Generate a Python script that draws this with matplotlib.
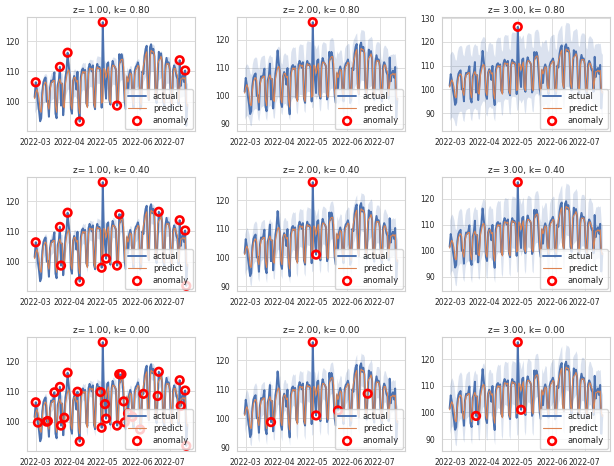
import numpy as np
import pandas as pd
import matplotlib
matplotlib.use("Agg")
import matplotlib.pyplot as plt
import matplotlib.dates as mdates
from matplotlib.ticker import MultipleLocator
import seaborn as sns

sns.set_style("whitegrid")
plt.rcParams['font.family'] = ['DejaVu Sans']

# ---------------- data ----------------
start_date = "2022-02-28"
actual = [
    101.5, 106.4, 104.0, 99.7, 97.0, 93.5, 94.5,
    103.5, 106.5, 107.5, 108.0, 100.0, 100.2, 95.0,
    104.5, 107.0, 106.5, 107.5, 109.7, 96.0, 94.5,
    105.5, 107.0, 111.5, 98.7, 106.0, 95.5, 101.3,
    108.0, 110.5, 116.2, 112.0, 108.5, 97.5, 96.0,
    107.0, 108.5, 107.0, 104.0, 109.9, 97.0, 93.4,
    108.0, 110.5, 111.0, 109.5, 110.5, 99.5, 98.5,
    111.0, 112.5, 111.5, 110.0, 112.0, 99.0, 97.5,
    110.5, 112.5, 111.0, 111.5, 109.8, 98.0, 126.3,
    110.0, 105.8, 101.0, 112.5, 113.0, 100.5, 99.0,
    111.0, 113.5, 112.0, 111.5, 110.5, 98.7, 100.0,
    115.7, 113.0, 115.7, 114.0, 106.7, 99.8, 97.5,
    108.0, 102.7, 109.0, 110.5, 109.0, 101.6, 98.0,
    110.0, 111.5, 112.0, 113.0, 111.0, 97.4, 98.5,
    110.0, 109.2, 115.0, 117.5, 118.5, 103.0, 100.5,
    118.0, 119.0, 116.0, 117.5, 115.0, 101.5, 99.5,
    108.5, 116.5, 114.5, 116.0, 113.0, 100.0, 98.5,
    112.0, 114.5, 112.5, 113.0, 110.5, 99.5, 98.0,
    110.5, 112.0, 111.0, 108.5, 107.5, 99.0, 113.7,
    105.2, 108.0, 109.0, 106.5, 110.3, 92.0, 99.0,
]
predict = [
    101.0, 103.0, 104.0, 103.0, 101.0, 97.0, 96.5,
    101.5, 105.0, 106.0, 106.5, 105.5, 99.0, 97.5,
    103.5, 106.0, 106.5, 107.0, 107.0, 98.5, 96.5,
    104.0, 106.5, 107.5, 106.0, 106.0, 98.5, 98.0,
    106.0, 108.0, 110.0, 110.5, 109.0, 99.0, 97.5,
    106.5, 108.0, 108.0, 106.5, 107.0, 98.5, 96.0,
    106.5, 109.0, 110.0, 109.5, 110.0, 99.5, 98.0,
    109.0, 111.0, 111.0, 110.5, 111.0, 99.5, 98.0,
    109.5, 111.5, 111.0, 111.0, 110.5, 99.5, 100.0,
    111.0, 110.5, 108.0, 110.0, 111.5, 101.0, 99.5,
    110.0, 112.0, 112.0, 111.5, 111.0, 100.5, 99.5,
    111.5, 113.5, 114.0, 114.0, 111.5, 101.0, 99.0,
    108.5, 106.5, 108.0, 109.5, 109.0, 101.5, 99.0,
    108.5, 110.5, 111.0, 112.0, 111.5, 100.5, 99.0,
    108.5, 112.0, 113.5, 115.5, 116.5, 102.0, 100.5,
    114.0, 117.0, 116.5, 116.5, 115.5, 102.5, 100.5,
    112.5, 113.5, 114.0, 115.0, 113.5, 101.0, 99.5,
    110.0, 112.5, 112.5, 112.5, 111.0, 100.5, 99.0,
    109.0, 111.0, 111.0, 109.5, 108.5, 100.0, 104.0,
    107.5, 107.5, 108.0, 107.5, 108.0, 100.0, 98.5,
]
# weekly smooth level (20 weeks) used as the band centre for large k
weekly_level = [100.5, 103.0, 104.0, 104.0, 107.0, 104.5, 107.0, 108.0, 110.0, 107.5,
                108.5, 109.5, 105.5, 107.5, 110.5, 112.5, 110.0, 108.5, 107.5, 104.5]
# weekly residual std for each k (20 weeks)
sigma_k080 = [4.6, 4.6, 4.5, 4.5, 4.5, 4.5, 4.5, 4.5, 4.5, 4.5,
              4.5, 4.5, 4.5, 4.5, 4.5, 4.5, 4.4, 4.4, 4.4, 4.4]
sigma_k040 = [3.6, 3.5, 3.4, 3.4, 3.4, 3.3, 3.3, 3.3, 3.3, 3.3,
              3.3, 3.3, 3.3, 3.3, 3.3, 3.3, 3.3, 3.3, 3.3, 3.3]
sigma_k000 = [3.0, 2.9, 2.8, 2.8, 2.7, 2.7, 2.7, 2.7, 2.7, 2.7,
              2.7, 2.7, 2.7, 2.7, 2.8, 2.8, 2.7, 2.7, 2.7, 2.7]
# share of the smooth level in the band centre, per k
level_weight = {0.8: 0.5, 0.4: 0.2, 0.0: 0.0}
z_values = [1.0, 2.0, 3.0]
k_values = [0.8, 0.4, 0.0]

anom_z1_k080 = ["2022-03-01", "2022-03-23", "2022-03-30", "2022-04-10",
                "2022-05-01", "2022-05-14", "2022-07-10", "2022-07-15"]
anom_z2_k080 = ["2022-05-01"]
anom_z3_k080 = ["2022-05-01"]
anom_z1_k040 = ["2022-03-01", "2022-03-23", "2022-03-24", "2022-03-30",
                "2022-04-10", "2022-04-30", "2022-05-01", "2022-05-04",
                "2022-05-14", "2022-05-16", "2022-06-21", "2022-07-10",
                "2022-07-15", "2022-07-16"]
anom_z2_k040 = ["2022-05-01", "2022-05-04"]
anom_z3_k040 = ["2022-05-01"]
anom_z1_k000 = ["2022-03-01", "2022-03-03", "2022-03-11", "2022-03-12",
                "2022-03-18", "2022-03-23", "2022-03-24", "2022-03-27",
                "2022-03-30", "2022-04-08", "2022-04-10", "2022-04-29",
                "2022-04-30", "2022-05-01", "2022-05-03", "2022-05-04",
                "2022-05-14", "2022-05-16", "2022-05-18", "2022-05-20",
                "2022-05-21", "2022-05-24", "2022-05-28", "2022-06-04",
                "2022-06-07", "2022-06-20", "2022-06-21", "2022-07-10",
                "2022-07-11", "2022-07-15", "2022-07-16"]
anom_z2_k000 = ["2022-03-24", "2022-05-01", "2022-05-04", "2022-05-24",
                "2022-06-20"]
anom_z3_k000 = ["2022-03-24", "2022-05-01", "2022-05-04"]

# ---------------- build ----------------
dates = pd.date_range(start_date, periods=len(actual), freq="D")
s_actual = pd.Series(actual, index=dates)
s_pred = pd.Series(predict, index=dates)
level = np.repeat(np.array(weekly_level), 7)[:len(actual)]
sigmas = {0.8: sigma_k080, 0.4: sigma_k040, 0.0: sigma_k000}
anoms = {
    (1.0, 0.8): anom_z1_k080, (2.0, 0.8): anom_z2_k080, (3.0, 0.8): anom_z3_k080,
    (1.0, 0.4): anom_z1_k040, (2.0, 0.4): anom_z2_k040, (3.0, 0.4): anom_z3_k040,
    (1.0, 0.0): anom_z1_k000, (2.0, 0.0): anom_z2_k000, (3.0, 0.0): anom_z3_k000,
}

W, H = 614, 466
fig = plt.figure(figsize=(W / 100, H / 100), dpi=100)
lefts = [27, 237, 442]
tops = [17, 177, 337]
aw, ah = 168, 114

blue = "#4c72b0"
orange = "#dd8452"

for r, k in enumerate(k_values):
    sig = np.repeat(np.array(sigmas[k]), 7)[:len(actual)]
    w = level_weight[k]
    centre = (1 - w) * s_pred.values + w * level
    for c, z in enumerate(z_values):
        ax = fig.add_axes([lefts[c] / W, 1 - (tops[r] + ah) / H, aw / W, ah / H])
        lo = centre - z * sig
        hi = centre + z * sig
        ax.fill_between(dates, lo, hi, color=blue, alpha=0.2, linewidth=0)
        ax.plot(dates, s_actual.values, color=blue, lw=1.4, label="actual")
        ax.plot(dates, s_pred.values, color=orange, lw=0.8, label="predict")
        ad = pd.to_datetime(anoms[(z, k)])
        ax.scatter(ad, s_actual.loc[ad].values, s=30, facecolors="none",
                   edgecolors="red", linewidths=1.9, zorder=5, label="anomaly")
        ax.set_title(f"z= {z:.2f}, k= {k:.2f}", fontsize=6.5, pad=3, color="#262626")
        ax.xaxis.set_major_locator(mdates.MonthLocator())
        ax.xaxis.set_major_formatter(mdates.DateFormatter("%Y-%m"))
        ax.yaxis.set_major_locator(MultipleLocator(10))
        ax.tick_params(labelsize=5.5, pad=1.5, colors="#262626")
        ax.grid(True, color="#dddddd", lw=0.7)
        for sp in ax.spines.values():
            sp.set_color("#d0d0d0")
            sp.set_linewidth(0.8)
        ax.legend(loc="lower right", fontsize=6, frameon=True, borderpad=0.4,
                  labelspacing=0.35, handlelength=2.2, handletextpad=0.8,
                  borderaxespad=0.3)

fig.savefig("out.png", dpi=100)
